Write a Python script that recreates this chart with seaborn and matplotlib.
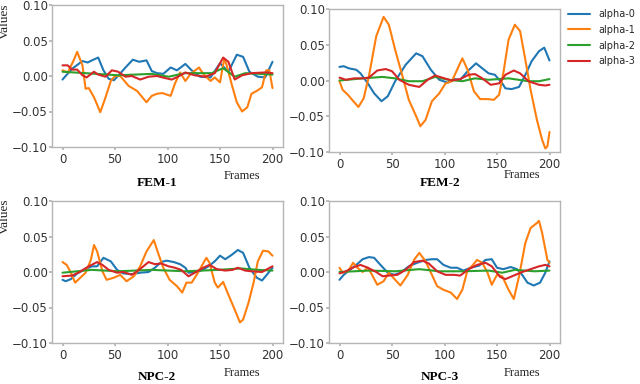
import matplotlib
matplotlib.use("Agg")
import matplotlib.pyplot as plt
import seaborn as sns
import pandas as pd

# ---------------- data ----------------
series_names = ["alpha-0", "alpha-1", "alpha-2", "alpha-3"]
panel_titles = ["FEM-1", "FEM-2", "NPC-2", "NPC-3"]
x_ticks = [0, 50, 100, 150, 200]
y_ticks = [-0.10, -0.05, 0.00, 0.05, 0.10]

# FEM-1
fem1_a0_x = [0, 9, 19, 24, 28, 34, 39, 44, 49, 54, 60, 67, 73, 80, 85, 90, 96, 103, 109, 117, 123, 131, 141, 150, 158, 166, 172, 178, 186, 193, 200]
fem1_a0_y = [-0.005, 0.010, 0.021, 0.019, 0.022, 0.026, 0.008, -0.004, -0.006, 0.002, 0.012, 0.023, 0.020, 0.022, 0.007, 0.004, 0.003, 0.012, 0.008, 0.017, 0.008, -0.001, -0.002, 0.018, 0.006, 0.030, 0.027, 0.006, -0.001, -0.002, 0.020]
fem1_a1_x = [0, 5, 10, 14, 19, 22, 25, 30, 36, 41, 46, 50, 55, 63, 71, 80, 85, 90, 95, 103, 107, 112, 117, 122, 130, 134, 141, 145, 150, 154, 156, 161, 166, 171, 176, 180, 185, 190, 194, 197, 200]
fem1_a1_y = [0.008, 0.005, 0.020, 0.034, 0.015, -0.018, -0.017, -0.030, -0.051, -0.030, -0.007, 0.000, 0.000, -0.014, -0.021, -0.037, -0.028, -0.025, -0.024, -0.028, -0.011, 0.005, -0.007, 0.003, 0.012, 0.003, -0.007, -0.002, -0.009, 0.024, 0.017, -0.011, -0.037, -0.050, -0.044, -0.025, -0.021, -0.016, 0.008, 0.008, -0.017]
fem1_a2_x = [0, 22, 53, 85, 101, 117, 142, 153, 164, 174, 200]
fem1_a2_y = [0.006, 0.004, 0.001, 0.003, -0.001, 0.004, 0.004, 0.011, -0.001, 0.004, 0.002]
fem1_a3_x = [0, 5, 9, 14, 19, 23, 30, 34, 41, 47, 53, 60, 66, 74, 82, 90, 98, 104, 110, 117, 126, 136, 145, 153, 158, 164, 171, 180, 193, 200]
fem1_a3_y = [0.015, 0.015, 0.009, 0.009, 0.001, -0.002, 0.006, 0.002, -0.001, 0.008, 0.006, -0.001, 0.000, -0.005, -0.001, 0.000, -0.003, -0.005, -0.001, 0.005, 0.001, -0.001, 0.004, 0.026, 0.020, -0.005, 0.001, 0.004, 0.005, 0.004]

# FEM-2
fem2_a0_x = [0, 4, 9, 16, 20, 27, 33, 40, 46, 53, 63, 73, 79, 87, 95, 103, 109, 115, 122, 130, 136, 142, 148, 155, 158, 164, 171, 177, 183, 190, 195, 200]
fem2_a0_y = [0.019, 0.020, 0.017, 0.015, 0.010, -0.004, -0.018, -0.029, -0.022, -0.001, 0.022, 0.038, 0.034, 0.015, 0.001, -0.003, 0.002, 0.001, 0.013, 0.024, 0.017, 0.010, 0.008, -0.004, -0.011, -0.012, -0.009, 0.008, 0.027, 0.041, 0.046, 0.028]
fem2_a1_x = [0, 3, 8, 12, 18, 23, 28, 35, 42, 47, 53, 60, 66, 73, 77, 82, 88, 95, 101, 107, 112, 117, 122, 128, 134, 141, 147, 152, 156, 161, 167, 172, 177, 182, 188, 193, 196, 198, 200]
fem2_a1_y = [-0.001, -0.013, -0.020, -0.027, -0.037, -0.025, 0.006, 0.062, 0.089, 0.078, 0.043, 0.006, -0.027, -0.050, -0.064, -0.055, -0.029, -0.018, -0.004, -0.001, 0.015, 0.031, 0.015, -0.015, -0.026, -0.026, -0.027, -0.020, 0.010, 0.057, 0.078, 0.069, 0.029, -0.013, -0.055, -0.083, -0.095, -0.092, -0.072]
fem2_a2_x = [0, 22, 41, 53, 66, 79, 91, 104, 117, 129, 142, 161, 180, 190, 200]
fem2_a2_y = [0.000, 0.003, 0.005, 0.003, -0.001, -0.001, 0.005, 0.001, -0.001, 0.003, 0.001, 0.003, -0.001, -0.001, 0.002]
fem2_a3_x = [0, 6, 14, 22, 28, 36, 44, 50, 57, 66, 76, 84, 91, 100, 107, 115, 123, 129, 136, 144, 152, 158, 166, 172, 180, 190, 196, 200]
fem2_a3_y = [0.004, 0.001, 0.003, 0.003, 0.004, 0.014, 0.016, 0.013, 0.001, -0.006, -0.009, 0.001, 0.007, 0.003, 0.000, 0.002, 0.008, 0.009, 0.003, -0.006, -0.004, 0.008, 0.014, 0.010, -0.001, -0.006, -0.007, -0.006]

# NPC-2
npc2_a0_x = [0, 3, 8, 14, 22, 28, 33, 39, 46, 52, 58, 66, 74, 82, 88, 94, 99, 106, 112, 117, 120, 126, 132, 139, 145, 150, 155, 161, 167, 172, 178, 185, 190, 194, 200]
npc2_a0_y = [-0.011, -0.013, -0.010, -0.002, 0.004, 0.008, 0.008, 0.020, 0.015, 0.003, -0.002, -0.003, -0.001, 0.000, 0.006, 0.014, 0.016, 0.014, 0.011, 0.006, -0.001, 0.000, 0.002, 0.008, 0.015, 0.023, 0.018, 0.024, 0.031, 0.027, 0.006, -0.008, -0.012, -0.005, 0.006]
npc2_a1_x = [0, 4, 8, 12, 17, 22, 27, 30, 33, 38, 42, 49, 55, 61, 68, 74, 80, 87, 91, 96, 102, 109, 114, 118, 123, 129, 137, 140, 145, 148, 153, 158, 164, 169, 172, 177, 182, 186, 191, 196, 200]
npc2_a1_y = [0.014, 0.010, -0.001, -0.015, -0.008, -0.001, 0.017, 0.038, 0.029, 0.001, -0.011, -0.008, -0.004, -0.013, -0.006, 0.008, 0.029, 0.045, 0.027, 0.006, -0.011, -0.020, -0.029, -0.015, -0.015, -0.001, 0.020, 0.013, -0.015, -0.022, -0.014, -0.032, -0.053, -0.071, -0.067, -0.044, -0.015, 0.015, 0.030, 0.029, 0.023]
npc2_a2_x = [0, 28, 53, 85, 117, 148, 170, 186, 200]
npc2_a2_y = [-0.001, 0.003, 0.001, 0.003, 0.001, 0.003, 0.005, 0.003, 0.002]
npc2_a3_x = [0, 9, 15, 25, 33, 38, 44, 52, 58, 66, 72, 82, 88, 94, 101, 107, 113, 120, 126, 134, 140, 147, 155, 162, 167, 174, 180, 190, 200]
npc2_a3_y = [-0.006, -0.005, -0.001, 0.008, 0.014, 0.010, 0.003, -0.001, 0.000, -0.004, 0.002, 0.014, 0.011, 0.012, 0.008, 0.006, 0.003, -0.006, -0.001, 0.006, 0.010, 0.004, 0.002, 0.003, 0.006, 0.002, 0.001, 0.000, 0.008]

# NPC-3
npc3_a0_x = [0, 4, 9, 16, 22, 28, 33, 39, 46, 52, 58, 66, 74, 82, 88, 93, 99, 106, 112, 118, 125, 133, 139, 145, 150, 156, 163, 169, 174, 179, 185, 191, 196, 200]
npc3_a0_y = [-0.011, -0.004, 0.002, 0.010, 0.018, 0.021, 0.020, 0.010, -0.001, -0.004, -0.001, 0.008, 0.013, 0.017, 0.018, 0.018, 0.010, 0.006, 0.006, 0.002, 0.006, 0.009, 0.017, 0.018, 0.006, 0.004, 0.007, 0.004, -0.004, -0.015, -0.019, -0.015, -0.001, 0.015]
npc3_a1_x = [0, 3, 8, 13, 17, 22, 27, 31, 36, 42, 47, 53, 58, 65, 71, 76, 82, 88, 93, 99, 106, 112, 117, 122, 126, 131, 136, 141, 145, 150, 155, 161, 166, 171, 177, 182, 188, 190, 193, 198, 200]
npc3_a1_y = [0.006, -0.001, 0.001, 0.013, 0.006, 0.000, 0.006, -0.004, -0.018, -0.013, -0.001, -0.011, -0.019, -0.004, 0.017, 0.027, 0.015, -0.004, -0.020, -0.025, -0.029, -0.038, -0.025, 0.003, 0.008, 0.017, 0.013, -0.001, -0.018, -0.004, -0.006, -0.025, -0.038, -0.006, 0.041, 0.062, 0.069, 0.072, 0.055, 0.017, 0.013]
npc3_a2_x = [0, 28, 53, 76, 95, 117, 142, 155, 167, 186, 200]
npc3_a2_y = [0.000, 0.002, 0.001, 0.004, 0.001, 0.001, 0.002, -0.001, 0.003, 0.001, 0.002]
npc3_a3_x = [0, 6, 14, 20, 27, 35, 41, 47, 55, 63, 71, 79, 85, 93, 101, 109, 115, 123, 131, 139, 145, 153, 158, 166, 174, 182, 190, 196, 200]
npc3_a3_y = [-0.002, 0.001, 0.007, 0.010, 0.006, 0.000, -0.006, -0.005, -0.004, 0.003, 0.014, 0.016, 0.012, 0.001, -0.004, -0.004, -0.005, 0.004, 0.010, 0.013, 0.008, -0.007, -0.010, -0.005, 0.000, 0.004, 0.008, 0.010, 0.008]

panels = {
    "FEM-1": [(fem1_a0_x, fem1_a0_y), (fem1_a1_x, fem1_a1_y), (fem1_a2_x, fem1_a2_y), (fem1_a3_x, fem1_a3_y)],
    "FEM-2": [(fem2_a0_x, fem2_a0_y), (fem2_a1_x, fem2_a1_y), (fem2_a2_x, fem2_a2_y), (fem2_a3_x, fem2_a3_y)],
    "NPC-2": [(npc2_a0_x, npc2_a0_y), (npc2_a1_x, npc2_a1_y), (npc2_a2_x, npc2_a2_y), (npc2_a3_x, npc2_a3_y)],
    "NPC-3": [(npc3_a0_x, npc3_a0_y), (npc3_a1_x, npc3_a1_y), (npc3_a2_x, npc3_a2_y), (npc3_a3_x, npc3_a3_y)],
}

rows = []
for pname, lst in panels.items():
    for sname, (xs, ys) in zip(series_names, lst):
        for k, (xv, yv) in enumerate(zip(xs, ys)):
            rows.append({"panel": pname, "series": sname, "frame": xv, "value": yv, "order": k})
df = pd.DataFrame(rows)

# ---------------- style ----------------
sns.set_theme(style="white")
plt.rcParams.update({
    "axes.edgecolor": "#b5b5b5",
    "axes.linewidth": 1.0,
    "xtick.bottom": True,
    "ytick.left": True,
    "xtick.color": "#b5b5b5",
    "ytick.color": "#b5b5b5",
    "xtick.labelcolor": "#333333",
    "ytick.labelcolor": "#333333",
    "xtick.major.size": 2.5,
    "ytick.major.size": 2.0,
    "xtick.major.pad": 2.0,
    "ytick.major.pad": 1.0,
    "xtick.labelsize": 8.5,
    "ytick.labelsize": 8.5,
})
plt.rcParams["font.family"] = ["DejaVu Sans"]

palette = {"alpha-0": "#1f77b4", "alpha-1": "#ff7f0e", "alpha-2": "#2ca02c", "alpha-3": "#d62728"}

fig = plt.figure(figsize=(6.4, 3.84), dpi=100)
W, H = 640.0, 384.0
boxes = {
    "FEM-1": (52, 5, 283, 147),
    "FEM-2": (329, 9, 560, 152),
    "NPC-2": (52, 201, 283, 343),
    "NPC-3": (329, 201, 560, 343),
}
title_pos = {"FEM-1": (157, 183), "FEM-2": (440, 183), "NPC-2": (157, 377), "NPC-3": (440, 377)}
frames_pos = {"FEM-1": (242, 176), "FEM-2": (522, 175), "NPC-2": (242, 373), "NPC-3": (522, 373)}

serif = ["Liberation Serif", "DejaVu Serif"]
axes = {}
for pname in panel_titles:
    l, t, r, b = boxes[pname]
    ax = fig.add_axes([l / W, 1 - b / H, (r - l) / W, (b - t) / H])
    sub = df[df.panel == pname].sort_values(["series", "order"])
    sns.lineplot(data=sub, x="frame", y="value", hue="series", hue_order=series_names,
                 palette=palette, estimator=None, sort=False, linewidth=1.5,
                 legend=(pname == "FEM-2"), ax=ax)
    ax.set_xlim(-10, 210)
    ax.set_ylim(-0.10, 0.10)
    ax.set_xticks(x_ticks)
    ax.set_yticks(y_ticks)
    ax.set_yticklabels([f"{v:.2f}".replace("-", "\u2212") for v in y_ticks])
    ax.set_xlabel("")
    ax.set_ylabel("")
    tx, ty = title_pos[pname]
    fig.text(tx / W, 1 - ty / H, pname, ha="center", va="center", fontsize=9.5,
             fontweight="bold", family=serif, color="black")
    fx, fy = frames_pos[pname]
    fig.text(fx / W, 1 - fy / H, "Frames", ha="center", va="center", fontsize=9,
             family=serif, color="#222222")
    axes[pname] = ax

fig.text(5 / W, 1 - 21 / H, "Values", rotation=90, ha="center", va="center",
         fontsize=9.5, family=serif, color="#222222")
fig.text(5 / W, 1 - 216 / H, "Values", rotation=90, ha="center", va="center",
         fontsize=9.5, family=serif, color="#222222")

ax2 = axes["FEM-2"]
h, lab = ax2.get_legend_handles_labels()
ax2.get_legend().remove()
fig.legend(h, lab, loc="upper left", bbox_to_anchor=(568 / W, 1 - 9 / H),
           frameon=False, fontsize=7, handlelength=2.3, handletextpad=0.8,
           labelspacing=0.6, borderpad=0, borderaxespad=0)

fig.savefig("out.png", dpi=100)
